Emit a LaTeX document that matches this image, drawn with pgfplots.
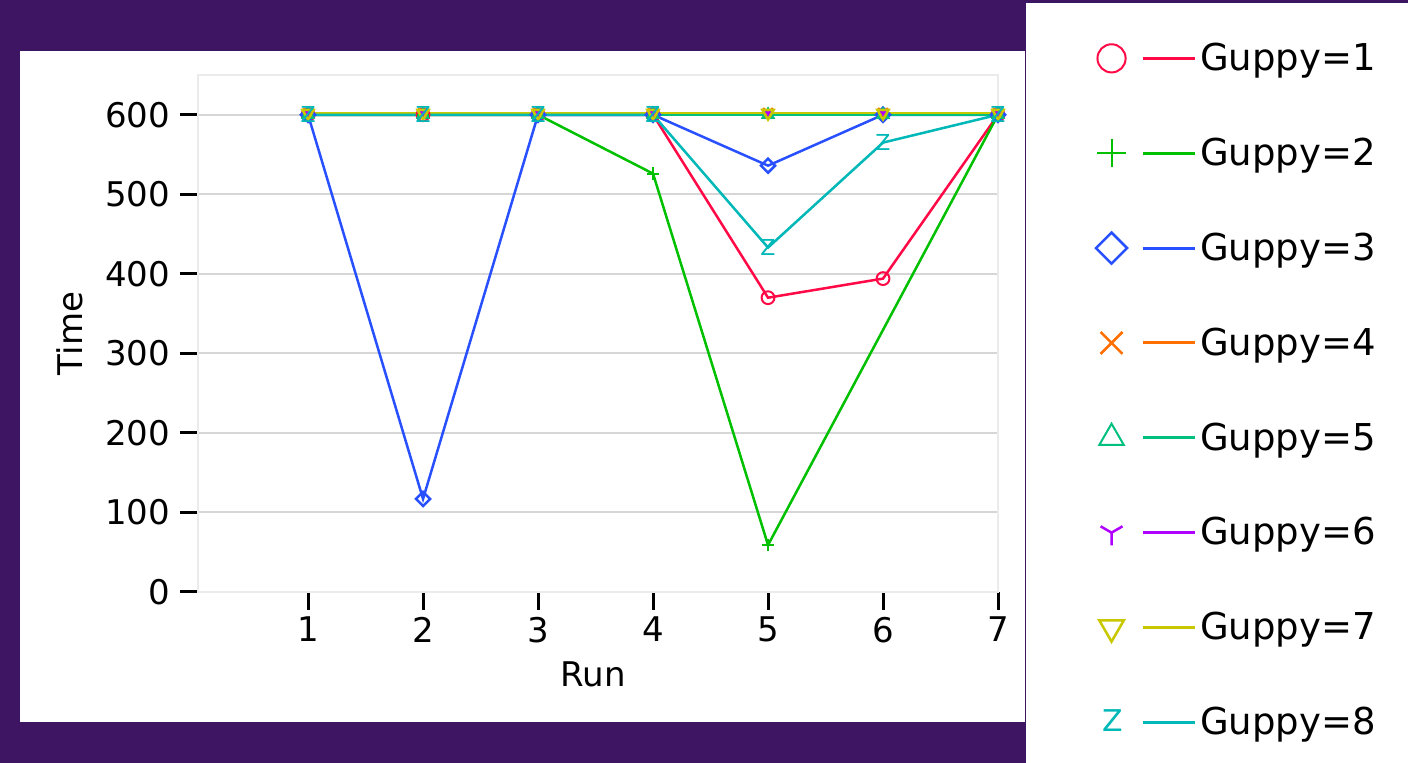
\documentclass[border=0pt]{standalone}
\usepackage{pgfplots}
\pgfplotsset{compat=1.18}
\usepackage{fontspec}
\setmainfont{DejaVu Sans}
\usetikzlibrary{plotmarks}
\definecolor{bgpurple}{HTML}{3D1562}
\definecolor{c1}{HTML}{FF0A47}
\definecolor{c2}{HTML}{00C000}
\definecolor{c3}{HTML}{2850FF}
\definecolor{c4}{HTML}{FF7000}
\definecolor{c5}{HTML}{00C080}
\definecolor{c6}{HTML}{B000FF}
\definecolor{c7}{HTML}{C8C800}
\definecolor{c8}{HTML}{00B8B8}
\definecolor{gridgray}{HTML}{D6D6D6}
\definecolor{boxgray}{HTML}{EBEBEB}
\begin{document}
\begin{tikzpicture}
\fill[bgpurple] (0pt,0pt) rectangle (704pt,381.5pt);
\fill[white] (10pt,20.5pt) rectangle (512.5pt,356pt);
\fill[white] (513pt,0pt) rectangle (704pt,380pt);
\begin{axis}[
  at={(99pt,85.5pt)}, anchor=south west,
  scale only axis, width=400pt, height=258.5pt,
  xmin=0.043, xmax=7, ymin=0, ymax=650,
  xtick={1,2,3,4,5,6,7}, ytick={0,100,200,300,400,500,600},
  xtick pos=bottom, ytick pos=left, tick align=outside,
  major tick length=9pt,
  tick style={black, line width=1.5pt},
  axis line style={boxgray, line width=1pt},
  ymajorgrids, grid style={gridgray, line width=1pt},
  tick label style={font=\fontsize{17}{20}\selectfont},
  yticklabel style={xshift=-1.5pt},
  /pgf/number format/assume math mode=true,
  xlabel={Run}, ylabel={Time},
  every axis x label/.style={at={(axis description cs:0.494,-0.16)}, anchor=center, font=\fontsize{17}{20}\selectfont},
  every axis y label/.style={at={(axis description cs:-0.16,0.5)}, rotate=90, anchor=center, font=\fontsize{17}{20}\selectfont},
  every axis plot/.append style={line width=1.25pt, mark size=3.2pt, mark options={solid, line width=1pt}},
  legend cell align=left,
  legend image code/.code={
    \draw[#1, mark=none, line width=1.5pt] (15.5pt,0pt) -- (41.5pt,0pt);
    \draw[#1, every mark/.append style={scale=2.2}] plot coordinates {(0pt,0pt)};
  },
  legend style={at={(axis description cs:1.1145,0.39)}, anchor=west, draw=none, fill=none,
    font=\fontsize{18.5}{21}\selectfont, row sep=28.2pt,
    nodes={inner sep=2pt}},
]
\addplot[c1, mark=o] coordinates {(1,600) (2,600) (3,600) (4,600) (5,370) (6,394) (7,600)};
\addlegendentry{Guppy=1}
\addplot[c2, mark=+] coordinates {(1,600) (2,600) (3,600) (4,526) (5,59) (7,600)};
\addlegendentry{Guppy=2}
\addplot[c3, mark=square, mark options={rotate=45, scale=0.78}] coordinates {(1,600) (2,117) (3,600) (4,600) (5,536) (6,600) (7,600)};
\addlegendentry{Guppy=3}
\addplot[c4, mark=x, mark options={scale=1.1}] coordinates {(1,602) (2,602) (3,602) (4,602) (5,602) (6,602) (7,602)};
\addlegendentry{Guppy=4}
\addplot[c5, mark=triangle] coordinates {(1,600) (2,600) (3,600) (4,600) (5,600) (6,600) (7,600)};
\addlegendentry{Guppy=5}
\addplot[c6, mark=Mercedes star flipped, mark options={scale=0.9}] coordinates {(1,602) (2,602) (3,602) (4,602) (5,602) (6,602) (7,602)};
\addlegendentry{Guppy=6}
\addplot[c7, mark=triangle, mark options={rotate=180}] coordinates {(1,602) (2,602) (3,602) (4,602) (5,602) (6,602) (7,602)};
\addlegendentry{Guppy=7}
\addplot[c8, forget plot, mark=text, text mark={\fontsize{11}{11}\selectfont Z}, text mark as node=true] coordinates {(1,600) (2,600) (3,600) (4,600) (5,433) (6,565) (7,600)};
\addlegendimage{c8, line width=1.25pt, mark=text, text mark={\fontsize{15}{15}\selectfont Z}, text mark as node=true, text mark style={xshift=-7pt}, mark options={solid}}
\addlegendentry{Guppy=8}
\end{axis}
\pgfresetboundingbox
\path[use as bounding box] (0pt,0pt) rectangle (704pt,381.5pt);
\end{tikzpicture}
\end{document}
